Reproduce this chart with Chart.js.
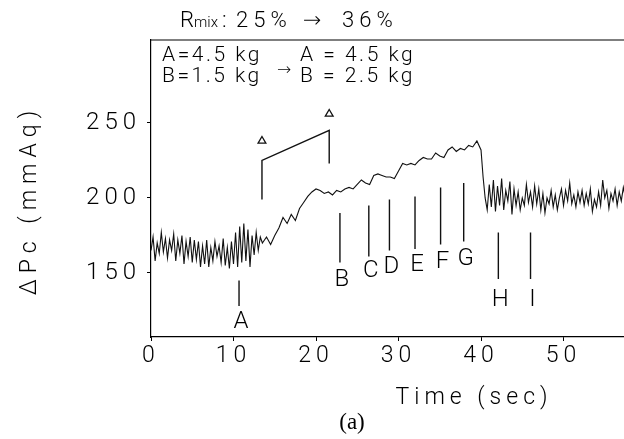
<!DOCTYPE html>
<html>
<head>
<meta charset="utf-8">
<script src="https://cdn.jsdelivr.net/npm/chart.js@4"></script>
<style>
  html, body { margin: 0; padding: 0; background: #fff; }
  #wrap { width: 624px; height: 439px; }
</style>
</head>
<body>
<div id="wrap"><canvas id="chartDp"></canvas></div>
<script>
// trace before the change (noisy, 0 - 13.25 s)
const timeBefore = [0,0.25,0.5,0.75,1,1.25,1.5,1.75,2,2.25,2.5,2.75,3,3.25,3.5,3.75,4,4.25,4.5,4.75,
  5,5.25,5.5,5.75,6,6.25,6.5,6.75,7,7.25,7.5,7.75,8,8.25,8.5,8.75,9,9.25,9.5,9.75,
  10,10.25,10.5,10.75,11,11.25,11.5,11.75,12,12.25,12.5,12.75,13,13.25];
const dpBefore = [165,174,158,170,163,177,164,173,160,172,165,176,158,172,163,175,156,171,161,174,
  157,172,159,171,154,168,156,172,154,167,158,171,161,168,157,173,155,167,153,171,
  156,177,154,181,157,183,158,179,154,175,162,177,165,174];

// rising part (13.5 - 40 s)
const timeRise = [13.5,14,14.5,15,15.5,16,16.5,17,17.5,18,18.5,19,19.5,20,20.5,21,21.5,22,22.5,23,
  23.5,24,24.5,25,25.5,26,26.5,27,27.5,28,28.5,29,29.5,30,30.5,31,31.5,32,32.5,33,
  33.5,34,34.5,35,35.5,36,36.5,37,37.5,38,38.5,39,39.5,40];
const dpRise = [170,174,169,175,180,187,183,189,185,193,197,201,204,206,205,203,204,202,205,204,
  206,207,206,209,212,210,209,215,216,215,214,214,213,218,223,222,223,222,225,227,
  226,226,230,228,227,232,234,231,233,232,235,234,238,232];

// after the drop (noisy, 40.25 - 57.5 s)
const timeAfter = [40.25,40.5,40.75,41,41.25,41.5,41.75,42,42.25,42.5,42.75,43,43.25,43.5,43.75,44,44.25,44.5,44.75,45,
  45.25,45.5,45.75,46,46.25,46.5,46.75,47,47.25,47.5,47.75,48,48.25,48.5,48.75,49,49.25,49.5,49.75,50,
  50.25,50.5,50.75,51,51.25,51.5,51.75,52,52.25,52.5,52.75,53,53.25,53.5,53.75,54,54.25,54.5,54.75,55,
  55.25,55.5,55.75,56,56.25,56.5,56.75,57,57.25,57.5];
const dpAfter = [214,200,192,209,194,212,191,208,195,213,192,205,198,211,189,206,195,204,192,200,
  195,209,197,204,194,208,196,206,192,203,190,200,196,205,194,202,192,200,206,195,
  205,198,210,196,202,194,204,197,205,195,203,196,206,191,199,194,204,195,212,200,
  205,193,203,198,206,195,204,198,207,200];

// sampling markers A..I
const markerNames = ['A','B','C','D','E','F','G','H','I'];
const markerTimes = [10.67, 22.9, 26.4, 28.9, 32.0, 35.1, 37.9, 42.1, 46.0];
const markerTop = [145, 190, 195, 199, 201, 207, 210, 177, 177];
const markerBottom = [128, 157, 161, 165, 166, 169, 171, 146, 146];
const markerLabelY = [117, 145, 151, 154, 155, 157, 159, 132, 132];

// bracket showing the feed change, with triangles
const bracketTimes = [13.45, 13.45, 21.6, 21.6];
const bracketValues = [199, 225, 245, 223];
const triangleTimes = [13.45, 21.6];
const triangleValues = [238, 256];

const xTicks = [0, 10, 20, 30, 40, 50];
const yTicks = [150, 200, 250];

const FONT = 'Roboto, "DejaVu Sans", sans-serif';

const trace = [];
[[timeBefore, dpBefore], [timeRise, dpRise], [timeAfter, dpAfter]].forEach(([ts, vs]) => {
  ts.forEach((t, i) => trace.push({ x: t, y: vs[i] }));
});

const markerLines = [];
markerTimes.forEach((t, i) => {
  markerLines.push({ x: t, y: markerTop[i] }, { x: t, y: markerBottom[i] }, { x: t, y: null });
});

function put(ctx, str, x, y, size, opts = {}) {
  ctx.font = `${opts.weight || 300} ${size}px ${opts.family || FONT}`;
  ctx.letterSpacing = (opts.spacing ?? 4) + 'px';
  ctx.textAlign = opts.align || 'left';
  ctx.textBaseline = 'middle';
  ctx.fillText(str, x, y);
}

const inkPlugin = {
  id: 'ink',
  beforeLayout(chart) { chart.ctx.letterSpacing = '5px'; },
  beforeDraw(chart) { chart.ctx.letterSpacing = '5px'; },
  afterDraw(chart) {
    const { ctx, chartArea: a, scales: { x, y } } = chart;
    ctx.save();
    ctx.strokeStyle = '#000';
    ctx.lineWidth = 1.2;
    ctx.beginPath();
    ctx.moveTo(a.left, a.top);
    ctx.lineTo(a.right, a.top);
    ctx.stroke();

    ctx.fillStyle = '#000';
    // title
    put(ctx, 'R', 180, 21, 22, { spacing: 0 });
    put(ctx, 'mix', 194, 23, 15, { spacing: 0 });
    put(ctx, ':', 222, 21, 22, { spacing: 0 });
    put(ctx, '25%', 236, 21, 22, { spacing: 5 });
    put(ctx, '→', 303, 21, 22, { spacing: 0 });
    put(ctx, '36%', 342, 21, 22, { spacing: 5 });

    // feed box text
    put(ctx, 'A=4.5 kg', a.left + 11, 56, 21, { spacing: 2.5 });
    put(ctx, 'B=1.5 kg', a.left + 11, 77, 21, { spacing: 2.5 });
    put(ctx, '→', a.left + 126, 71, 17, { spacing: 0 });
    put(ctx, 'A = 4.5 kg', a.left + 149, 56, 21, { spacing: 2.5 });
    put(ctx, 'B = 2.5 kg', a.left + 149, 77, 21, { spacing: 2.5 });

    // marker letters
    markerNames.forEach((n, i) => {
      put(ctx, n, x.getPixelForValue(markerTimes[i]) + 2, y.getPixelForValue(markerLabelY[i]), 24,
        { align: 'center', spacing: 0 });
    });

    // axis titles
    put(ctx, 'Time (sec)', 474, 398, 23, { align: 'center', spacing: 5 });
    ctx.save();
    ctx.translate(30, 200);
    ctx.rotate(-Math.PI / 2);
    put(ctx, 'ΔPc (mmAq)', 0, 0, 23, { align: 'center', spacing: 6 });
    ctx.restore();
    put(ctx, '(a)', 352, 423, 23, { align: 'center', spacing: 0, weight: 400, family: '"Liberation Serif", serif' });
    ctx.restore();
  }
};

new Chart(document.getElementById('chartDp'), {
  type: 'line',
  data: {
    datasets: [
      { data: trace, borderColor: '#111', borderWidth: 1.1, pointRadius: 0, tension: 0 },
      { data: markerLines, borderColor: '#111', borderWidth: 1.4, pointRadius: 0, spanGaps: false },
      {
        data: bracketTimes.map((t, i) => ({ x: t, y: bracketValues[i] })),
        borderColor: '#111', borderWidth: 1.4, pointRadius: 0
      },
      {
        data: triangleTimes.map((t, i) => ({ x: t, y: triangleValues[i] })),
        showLine: false, pointStyle: 'triangle', pointRadius: 4.5,
        borderColor: '#111', borderWidth: 1.3, backgroundColor: '#fff'
      }
    ]
  },
  options: {
    responsive: true,
    maintainAspectRatio: false,
    animation: false,
    devicePixelRatio: 1,
    layout: { autoPadding: false, padding: { top: 40, right: 0, left: 0, bottom: 0 } },
    plugins: { legend: { display: false }, tooltip: { enabled: false } },
    scales: {
      x: {
        type: 'linear', min: 0, max: 57.33,
        afterBuildTicks: s => { s.ticks = xTicks.map(v => ({ value: v })); },
        afterFit: s => { s.height = 102; s.paddingLeft = 0; s.paddingRight = 0; },
        ticks: { color: '#000', font: { family: FONT, size: 23, weight: 300 }, padding: 1, maxRotation: 0 },
        grid: { drawOnChartArea: false, tickLength: 4, color: '#000' },
        border: { color: '#000', width: 1.2 }
      },
      y: {
        min: 107.3, max: 305.3,
        afterBuildTicks: s => { s.ticks = yTicks.map(v => ({ value: v })); },
        afterFit: s => { s.width = 151; s.paddingTop = 0; s.paddingBottom = 0; },
        ticks: { color: '#000', font: { family: FONT, size: 24, weight: 300 }, padding: 6 },
        grid: { drawOnChartArea: false, tickLength: 4, color: '#000' },
        border: { color: '#000', width: 1.2 }
      }
    }
  },
  plugins: [inkPlugin]
});
</script>
</body>
</html>
